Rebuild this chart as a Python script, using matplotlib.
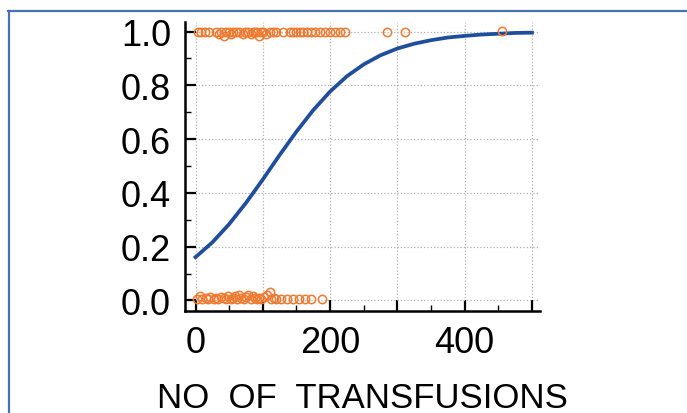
import numpy as np
import matplotlib.pyplot as plt
from matplotlib.lines import Line2D
from matplotlib.ticker import MultipleLocator

plt.rcParams['font.family'] = ['Liberation Sans', 'DejaVu Sans']

# fitted curve
curve_x = [0, 25, 50, 75, 100, 125, 150, 175, 200, 225, 250,
           275, 300, 325, 350, 375, 400, 425, 450, 475, 500]
curve_p = [0.161, 0.216, 0.284, 0.363, 0.450, 0.541, 0.628, 0.708, 0.777, 0.834, 0.878,
           0.912, 0.937, 0.955, 0.968, 0.978, 0.984, 0.989, 0.992, 0.995, 0.996]

# observed outcome = 1
pos_x = [3, 8, 14, 20, 30, 35, 38, 42, 45, 50, 52, 55, 60, 65, 70, 73, 78, 82, 85,
         88, 92, 95, 98, 100, 105, 110, 115, 120, 130, 140, 145, 150, 155, 160, 165,
         172, 178, 185, 192, 200, 208, 215, 222, 284, 311, 455]
pos_y = [1, 1, 1, 1, 1, 0.99, 1, 0.985, 1, 1, 0.99, 1, 1, 1, 0.99, 1, 1, 0.99, 1,
         1, 1, 0.985, 1, 1, 0.99, 1, 1, 1, 1, 1, 1, 1, 1, 1, 1,
         1, 1, 1, 1, 1, 1, 1, 1, 1, 1, 1.003]

# observed outcome = 0
neg_x = [2, 6, 10, 15, 18, 22, 27, 30, 34, 38, 42, 45, 48, 52, 55, 58, 62, 65, 68,
         72, 75, 78, 82, 85, 88, 92, 95, 98, 102, 106, 110, 112, 116, 120,
         127, 136, 145, 154, 163, 172, 188]
neg_y = [0.005, 0.015, 0.005, 0.01, 0.005, 0.012, 0.005, 0.01, 0.005, 0.012, 0.008, 0.005,
         0.015, 0.005, 0.01, 0.018, 0.005, 0.02, 0.008, 0.005, 0.012, 0.02, 0.005, 0.015,
         0.008, 0.005, 0.01, 0.005, 0.012, 0.02, 0.03, 0.005, 0.01, 0.005,
         0.005, 0.005, 0.005, 0.005, 0.005, 0.005, 0.005]

fig = plt.figure(figsize=(6.87, 4.14), dpi=100)
ax = fig.add_axes([0.269, 0.246, 0.517, 0.698])

ax.grid(True, which='major', color='#b0b0b0', linestyle=':', linewidth=0.9)
ax.plot(curve_x, curve_p, color='#1f4e9c', linewidth=2.7, zorder=3)
ax.plot(pos_x, pos_y, 'o', mfc='none', mec='#f07a30', ms=6, mew=1.1, zorder=4)
ax.plot(neg_x, neg_y, 'o', mfc='none', mec='#f07a30', ms=6, mew=1.1, zorder=4)

ax.set_xlim(-16, 512)
ax.set_ylim(-0.04, 1.035)
ax.xaxis.set_major_locator(MultipleLocator(100))
ax.xaxis.set_minor_locator(MultipleLocator(50))
ax.yaxis.set_major_locator(MultipleLocator(0.2))
ax.yaxis.set_minor_locator(MultipleLocator(0.1))
ax.set_xticks([0, 100, 200, 300, 400, 500])
ax.set_xticklabels(['0', '', '200', '', '400', ''])
ax.set_yticks([0, 0.2, 0.4, 0.6, 0.8, 1.0])
ax.set_yticklabels(['0.0', '0.2', '0.4', '0.6', '0.8', '1.0'])

for s in ['top', 'right']:
    ax.spines[s].set_visible(False)
for s in ['left', 'bottom']:
    ax.spines[s].set_linewidth(1.8)
ax.tick_params(which='major', direction='in', length=8, width=1.6, labelsize=26, pad=10)
ax.tick_params(which='minor', direction='in', length=4, width=1.0)

ax.set_xlabel('NO  OF  TRANSFUSIONS', fontsize=25)
ax.xaxis.set_label_coords(0.5, -0.24)

# blue frame lines at the top and left of the picture
fig.add_artist(Line2D([8 / 687, 1], [1 - 12 / 414, 1 - 12 / 414], color='#4a6fb5', lw=1.6,
                      transform=fig.transFigure))
fig.add_artist(Line2D([9 / 687, 9 / 687], [0, 1 - 12 / 414], color='#4a6fb5', lw=1.6,
                      transform=fig.transFigure))

fig.savefig('out.png', dpi=100)
